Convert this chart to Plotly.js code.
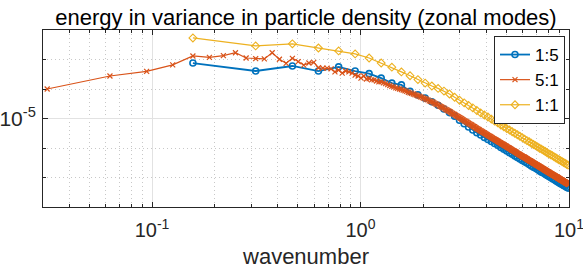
<!DOCTYPE html>
<html>
<head>
<meta charset="utf-8">
<script src="https://cdn.plot.ly/plotly-3.0.1.min.js"></script>
<style>html,body{margin:0;padding:0;background:#fff;}#chart{width:583px;height:269px;}</style>
</head>
<body>
<div id="chart"></div>
<script>
// Series names (legend)
const seriesNames = ["1:5", "5:1", "1:1"];

// Wavenumber grids: first wavenumber and spacing of each run
const k0_1to5 = 0.15708, dk_1to5 = 0.15708;
const k0_5to1 = 0.0314159, dk_5to1 = 0.0314159;
const k0_1to1 = 0.15708, dk_1to1 = 0.15708;

// log10 of energy
const log10E_1to5 = [-3.12,-3.39,-3.22,-3.39,-3.25,-3.39,-3.48,-3.63,-3.80,-3.86,
-4.08,-4.20,-4.31,-4.43,-4.55,-4.68,-4.80,-4.92,-5.06,-5.18,
-5.29,-5.39,-5.48,-5.56,-5.64,-5.71,-5.78,-5.85,-5.91,-5.98,
-6.04,-6.10,-6.16,-6.21,-6.27,-6.32,-6.37,-6.42,-6.47,-6.51,
-6.56,-6.61,-6.65,-6.69,-6.73,-6.78,-6.82,-6.85,-6.89,-6.93,
-6.97,-7.00,-7.04,-7.07,-7.11,-7.14,-7.18,-7.21,-7.24,-7.27,
-7.30,-7.33,-7.36];

const log10E_5to1 = [-4.00,-3.56,-3.40,-3.18,-2.88,-2.93,-2.87,-2.77,-2.95,-2.97,
-2.98,-2.77,-2.99,-3.13,-2.96,-3.07,-3.19,-3.12,-3.10,-3.28,
-3.29,-3.29,-3.32,-3.42,-3.36,-3.46,-3.39,-3.42,-3.46,-3.53,
-3.56,-3.63,-3.56,-3.66,-3.65,-3.69,-3.69,-3.73,-3.76,-3.76,
-3.79,-3.82,-3.85,-3.88,-3.91,-3.93,-3.96,-3.98,-4.00,-4.02,
-4.04,-4.06,-4.08,-4.11,-4.13,-4.15,-4.17,-4.19,-4.21,-4.23,
-4.25,-4.27,-4.29,-4.31,-4.33,-4.35,-4.37,-4.40,-4.42,-4.43,
-4.45,-4.48,-4.50,-4.52,-4.54,-4.57,-4.59,-4.61,-4.63,-4.65,
-4.68,-4.70,-4.72,-4.74,-4.76,-4.78,-4.81,-4.83,-4.85,-4.86,
-4.89,-4.91,-4.93,-4.95,-4.97,-4.99,-5.01,-5.03,-5.05,-5.07,
-5.09,-5.10,-5.12,-5.14,-5.16,-5.18,-5.20,-5.21,-5.23,-5.25,
-5.27,-5.28,-5.30,-5.32,-5.34,-5.35,-5.37,-5.38,-5.40,-5.42,
-5.43,-5.45,-5.46,-5.48,-5.49,-5.51,-5.52,-5.54,-5.55,-5.57,
-5.58,-5.60,-5.61,-5.62,-5.64,-5.65,-5.67,-5.68,-5.69,-5.71,
-5.72,-5.73,-5.74,-5.76,-5.77,-5.78,-5.80,-5.81,-5.82,-5.83,
-5.85,-5.86,-5.87,-5.88,-5.89,-5.91,-5.92,-5.93,-5.94,-5.95,
-5.97,-5.98,-5.99,-6.00,-6.01,-6.02,-6.03,-6.05,-6.06,-6.07,
-6.08,-6.09,-6.10,-6.11,-6.12,-6.13,-6.14,-6.15,-6.17,-6.18,
-6.19,-6.20,-6.21,-6.22,-6.23,-6.24,-6.25,-6.26,-6.27,-6.28,
-6.29,-6.30,-6.30,-6.31,-6.32,-6.33,-6.34,-6.35,-6.36,-6.37,
-6.38,-6.39,-6.40,-6.41,-6.42,-6.43,-6.44,-6.44,-6.45,-6.46,
-6.47,-6.48,-6.49,-6.50,-6.51,-6.52,-6.52,-6.53,-6.54,-6.55,
-6.56,-6.57,-6.57,-6.58,-6.59,-6.60,-6.61,-6.62,-6.62,-6.63,
-6.64,-6.65,-6.66,-6.66,-6.67,-6.68,-6.69,-6.70,-6.70,-6.71,
-6.72,-6.73,-6.74,-6.74,-6.75,-6.76,-6.77,-6.77,-6.78,-6.79,
-6.80,-6.80,-6.81,-6.82,-6.83,-6.83,-6.84,-6.85,-6.86,-6.86,
-6.87,-6.88,-6.88,-6.89,-6.90,-6.90,-6.91,-6.92,-6.93,-6.93,
-6.94,-6.95,-6.95,-6.96,-6.97,-6.97,-6.98,-6.99,-6.99,-7.00,
-7.01,-7.01,-7.02,-7.03,-7.03,-7.04,-7.05,-7.05,-7.06,-7.07,
-7.07,-7.08,-7.09,-7.09,-7.10,-7.10,-7.11,-7.12,-7.12,-7.13,
-7.14,-7.14,-7.15,-7.15,-7.16,-7.17,-7.17,-7.18,-7.18,-7.19,
-7.20,-7.20,-7.21,-7.22,-7.22,-7.23,-7.23,-7.24];

const log10E_1to1 = [-2.27,-2.54,-2.47,-2.61,-2.71,-2.81,-2.95,-3.12,-3.26,-3.42,
-3.55,-3.68,-3.80,-3.90,-3.98,-4.07,-4.17,-4.28,-4.38,-4.47,
-4.56,-4.64,-4.73,-4.81,-4.88,-4.95,-5.02,-5.09,-5.15,-5.22,
-5.28,-5.34,-5.39,-5.45,-5.50,-5.55,-5.60,-5.65,-5.70,-5.75,
-5.79,-5.84,-5.88,-5.92,-5.96,-6.01,-6.04,-6.08,-6.12,-6.16,
-6.20,-6.23,-6.26,-6.30,-6.33,-6.37,-6.40,-6.43,-6.46,-6.49,
-6.52,-6.55,-6.58];

// Axis ticks
const xTickVals = [0.1, 1, 10];
const xTickText = ["10<sup>-1</sup>", "10<sup>0</sup>", "10<sup>1</sup>"];
const xMinorVals = [0.03,0.04,0.05,0.06,0.07,0.08,0.09,0.2,0.3,0.4,0.5,0.6,0.7,0.8,0.9,2,3,4,5,6,7,8,9];
const yTickVals = [1e-5];
const yTickText = ["10<sup>-5</sup>"];
const yMinorVals = [1e-8,1e-7,1e-6,1e-4,1e-3,1e-2];

const toLin = a => a.map(v => Math.pow(10, v));
const axisColor = "#262626";

const traces = [
  {name: seriesNames[0], type: "scatter", mode: "lines+markers",
   x0: k0_1to5, dx: dk_1to5, y: toLin(log10E_1to5),
   line: {color: "#0072BD", width: 1.8},
   marker: {symbol: "circle-open", size: 6, color: "#0072BD", line: {width: 1.6}}},
  {name: seriesNames[1], type: "scatter", mode: "lines+markers",
   x0: k0_5to1, dx: dk_5to1, y: toLin(log10E_5to1),
   line: {color: "#D95319", width: 1.2},
   marker: {symbol: "x-thin-open", size: 5, color: "#D95319", line: {width: 1.2}}},
  {name: seriesNames[2], type: "scatter", mode: "lines+markers",
   x0: k0_1to1, dx: dk_1to1, y: toLin(log10E_1to1),
   line: {color: "#EDB120", width: 1.2},
   marker: {symbol: "diamond-open", size: 6, color: "#EDB120", line: {width: 1.1}}}
];

const layout = {
  width: 583, height: 269,
  margin: {l: 43, r: 14, t: 30, b: 62, pad: 0},
  paper_bgcolor: "#fff", plot_bgcolor: "#fff",
  font: {family: "Liberation Sans, Arial, Helvetica, sans-serif", color: axisColor, size: 20},
  showlegend: true,
  title: {text: "energy in variance in particle density (zonal modes)",
          font: {size: 22, color: "#000"}, x: 0.5, xref: "paper", xanchor: "center",
          y: 1 - 17/269, yref: "container", yanchor: "middle"},
  xaxis: {type: "log", range: [Math.log10(0.03), 1], autorange: false,
          tickmode: "array", tickvals: xTickVals, ticktext: xTickText,
          ticks: "inside", ticklen: 5, tickwidth: 1, tickcolor: axisColor,
          ticklabeloverflow: "allow", ticklabelstandoff: 5,
          showline: true, linecolor: axisColor, linewidth: 1, mirror: "ticks",
          showgrid: true, gridcolor: "#e2e2e2", gridwidth: 1, zeroline: false,
          tickfont: {size: 20, color: axisColor},
          minor: {tickmode: "array", tickvals: xMinorVals, ticks: "inside", ticklen: 3,
                  tickcolor: axisColor, showgrid: true, gridcolor: "#c8c8c8", griddash: "1px,3px"},
          title: {text: "wavenumber", font: {size: 22, color: axisColor}, standoff: 11}},
  yaxis: {type: "log", range: [-8, -2], autorange: false,
          tickmode: "array", tickvals: yTickVals, ticktext: yTickText,
          ticks: "inside", ticklen: 5, tickwidth: 1, tickcolor: axisColor,
          ticklabeloverflow: "allow", ticklabelstandoff: 2,
          showline: true, linecolor: axisColor, linewidth: 1, mirror: "ticks",
          showgrid: true, gridcolor: "#e2e2e2", gridwidth: 1, zeroline: false,
          tickfont: {size: 21, color: axisColor},
          minor: {tickmode: "array", tickvals: yMinorVals, ticks: "inside", ticklen: 3,
                  tickcolor: axisColor, showgrid: true, gridcolor: "#c8c8c8", griddash: "1px,3px"}},
  legend: {x: (565 - 43) / 526, xanchor: "right", y: (207 - 36) / 177, yanchor: "top",
           bgcolor: "#fff", bordercolor: axisColor, borderwidth: 1,
           font: {size: 17, color: "#000"}}
};

Plotly.newPlot("chart", traces, layout, {displayModeBar: false, staticPlot: true});
</script>
</body>
</html>
